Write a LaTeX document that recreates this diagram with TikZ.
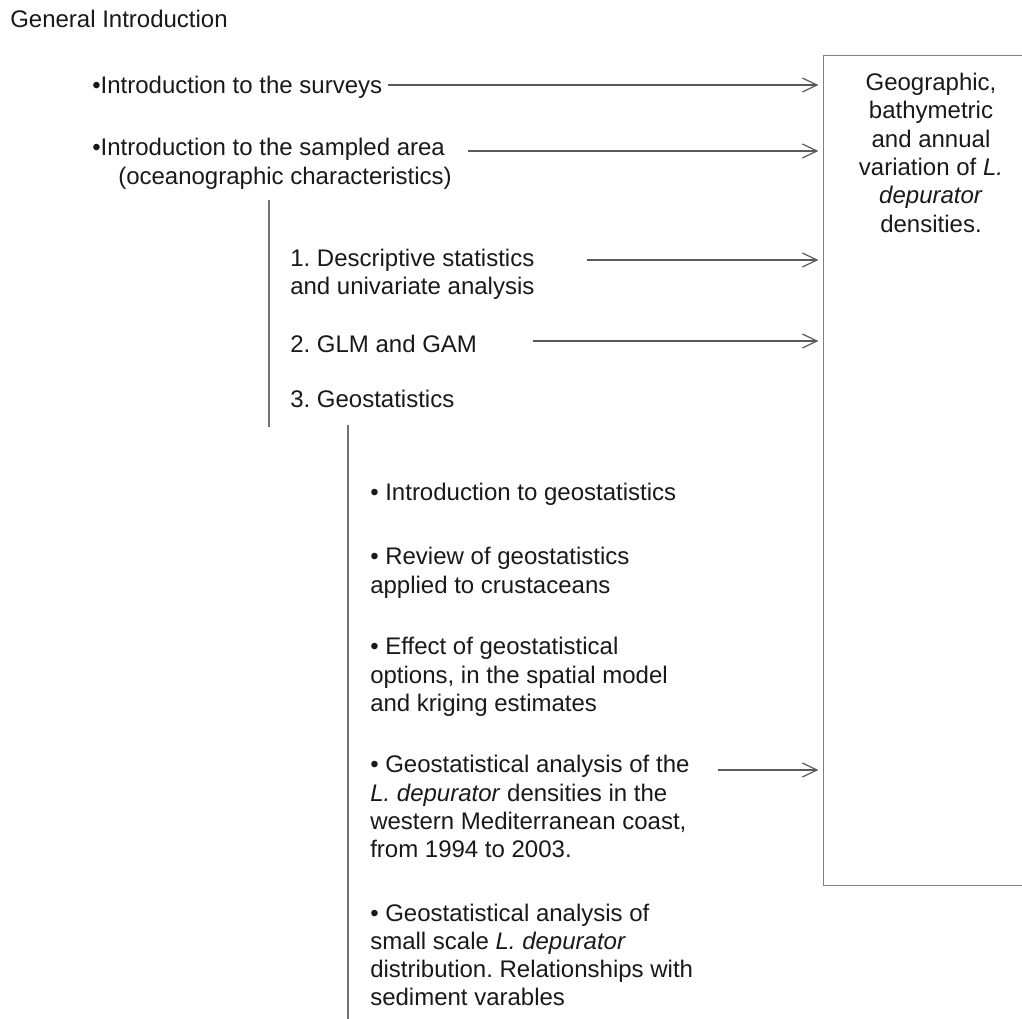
\documentclass[tikz,border=0pt]{standalone}
\usepackage{fontspec}
\setmainfont{Liberation Sans}
\usetikzlibrary{arrows.meta}
\frenchspacing
\begin{document}
\begin{tikzpicture}[x=0.75pt,y=-0.75pt,
  txt/.style={inner sep=0pt, anchor=base west, font=\fontsize{18}{21.2}\selectfont\frenchspacing, text=black!90},
  ctxt/.style={txt, anchor=base},
  link/.style={draw=black!65, line width=0.9pt, -{Straight Barb[length=11pt,width=10.5pt]}, shorten >=4pt},
  rulest/.style={draw=black!55, line width=0.9pt},
  frame/.style={draw=black!50, line width=0.9pt}]
\useasboundingbox (0,0) rectangle (1022,1019);

% result frame (open at the right, cut by the page edge)
\node[inner sep=0pt, minimum width=148.5pt, minimum height=621.75pt] (box) at (923,470.5) {};
\draw[frame] (box.north east) -- (box.north west) -- (box.south west) -- (box.south east);
\node[ctxt] (res) at (931,90.7) {\begin{tabular}[t]{@{}c@{}}Geographic,\\bathymetric\\and annual\\variation of \textit{L.}\\\textit{depurator}\\densities.\end{tabular}};

% texts
\node[txt] (gen) at (10,28) {General Introduction};
\node[txt] (surv) at (92,94) {\textbullet Introduction to the surveys};
\node[txt] (area) at (92,156) {\begin{tabular}[t]{@{}l@{}}\textbullet Introduction to the sampled area\\\hspace*{19.5pt}(oceanographic characteristics)\end{tabular}};
\node[txt] (desc) at (290,266.7) {\begin{tabular}[t]{@{}l@{}}1. Descriptive statistics\\and univariate analysis\end{tabular}};
\node[txt] (glm) at (290,353) {2. GLM and GAM};
\node[txt] (geo) at (290,408) {3. Geostatistics};
\node[txt] (b1) at (370,501) {\textbullet{} Introduction to geostatistics};
\node[txt] (b2) at (370,565) {\begin{tabular}[t]{@{}l@{}}\textbullet{} Review of geostatistics\\applied to crustaceans\end{tabular}};
\node[txt] (b3) at (370,655) {\begin{tabular}[t]{@{}l@{}}\textbullet{} Effect of geostatistical\\options, in the spatial model\\and kriging estimates\end{tabular}};
\node[txt] (b4) at (370,773) {\begin{tabular}[t]{@{}l@{}}\textbullet{} Geostatistical analysis of the\\\textit{L. depurator} densities in the\\western Mediterranean coast,\\from 1994 to 2003.\end{tabular}};
\node[txt] (b5) at (370,921) {\begin{tabular}[t]{@{}l@{}}\textbullet{} Geostatistical analysis of\\small scale \textit{L. depurator}\\distribution. Relationships with\\sediment varables\end{tabular}};

% bracket rules
\coordinate (v1t) at (269,200);
\coordinate (v1b) at (269,427);
\coordinate (v2t) at (348,425);
\coordinate (v2b) at (348,1019);
\draw[rulest] (v1t) -- (v1b);
\draw[rulest] (v2t) -- (v2b);

% arrows into the frame
\coordinate (s1) at (388,85);
\coordinate (s2) at (468,151);
\coordinate (s3) at (587,260);
\coordinate (s4) at (533,341);
\coordinate (s5) at (718,770);
\foreach \s in {s1,s2,s3,s4,s5}
  \draw[link] (\s) -- (\s -| box.west);
\end{tikzpicture}
\end{document}
